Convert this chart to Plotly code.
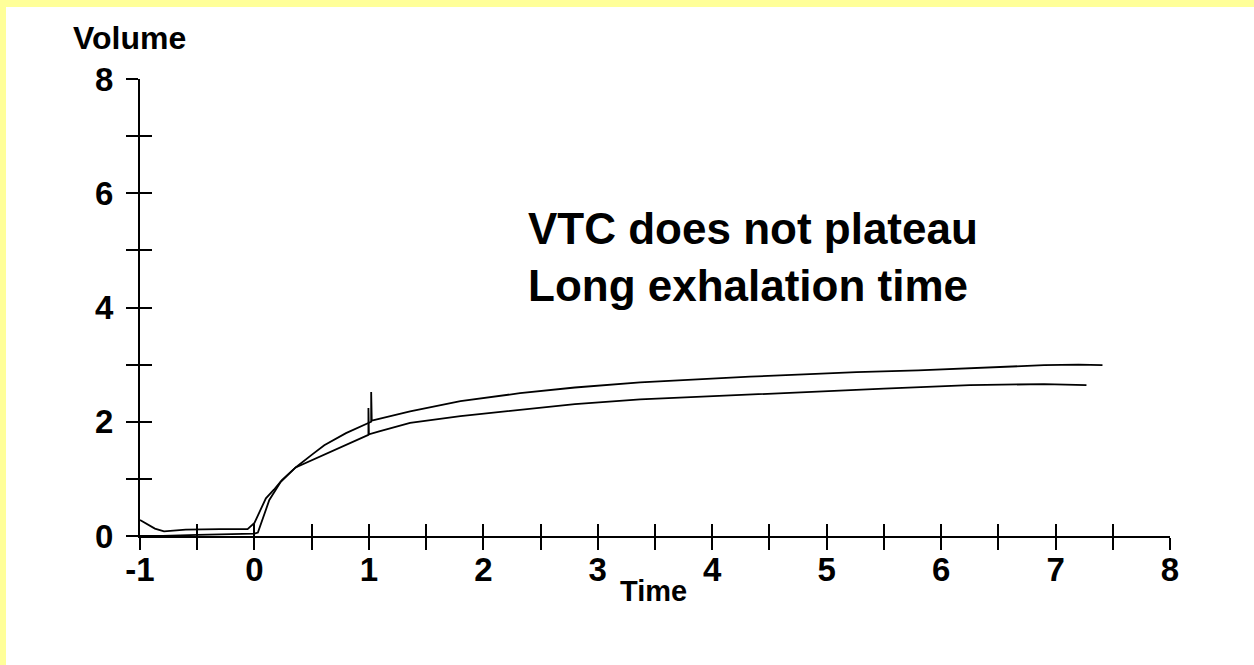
import plotly.graph_objects as go

# ---- data ----
upper_x = [-1.0, -0.8, -0.5, -0.2, 0.0, 0.03, 0.06, 0.13, 0.23, 0.36, 0.5, 0.61, 0.8, 1.0, 1.02, 1.02, 1.025,
           1.36, 1.8, 2.32, 2.8, 3.37, 3.9, 4.33, 4.8, 5.26, 5.8, 6.25, 6.9, 7.2, 7.41]
upper_y = [0.0, 0.0, 0.02, 0.03, 0.04, 0.06, 0.22, 0.63, 0.95, 1.20, 1.42, 1.59, 1.80, 1.97, 2.00, 2.52, 2.02,
           2.18, 2.36, 2.50, 2.60, 2.69, 2.75, 2.79, 2.83, 2.87, 2.90, 2.94, 2.99, 3.00, 2.99]

lower_x = [-1.0, -0.95, -0.87, -0.79, -0.6, -0.3, -0.06, 0.0, 0.04, 0.10, 0.17, 0.24, 0.36, 0.61, 0.8,
           0.996, 0.996, 1.0, 1.09, 1.36, 1.8, 2.32, 2.8, 3.37, 3.9, 4.33, 4.94, 5.5, 6.25, 6.9, 7.27]
lower_y = [0.28, 0.22, 0.13, 0.08, 0.11, 0.12, 0.12, 0.23, 0.40, 0.66, 0.81, 0.98, 1.20, 1.42, 1.60,
           1.77, 2.24, 1.78, 1.83, 1.98, 2.10, 2.21, 2.31, 2.39, 2.44, 2.47, 2.54, 2.58, 2.64, 2.66, 2.64]

x_tickvals = [-1, -0.5, 0, 0.5, 1, 1.5, 2, 2.5, 3, 3.5, 4, 4.5, 5, 5.5, 6, 6.5, 7, 7.5, 8]
x_ticktext = ["-1", "", "0", "", "1", "", "2", "", "3", "", "4", "", "5", "", "6", "", "7", "", "8"]
y_tickvals = [0, 1, 2, 3, 4, 5, 6, 7, 8]
y_ticktext = ["0", "", "2", "", "4", "", "6", "", "8"]

x_title = "Time"
y_title = "Volume"
note = "VTC does not plateau<br>Long exhalation time"

FONT = "Liberation Sans, Arial, sans-serif"
YELLOW = "#FFFF99"

fig = go.Figure()
fig.add_trace(go.Scatter(x=lower_x, y=lower_y, mode="lines",
                         line=dict(color="black", width=1.8), showlegend=False, hoverinfo="skip"))
fig.add_trace(go.Scatter(x=upper_x, y=upper_y, mode="lines", xaxis="x2", yaxis="y2",
                         line=dict(color="black", width=1.8), showlegend=False, hoverinfo="skip"))

tickfont = dict(family=FONT, size=33, color="black", weight="bold")

fig.update_layout(
    width=1254, height=665,
    margin=dict(l=140, r=84, t=79, b=129),
    paper_bgcolor=YELLOW,
    plot_bgcolor="white",
    font=dict(family=FONT, color="black"),
    xaxis=dict(range=[-1, 8], tickmode="array", tickvals=x_tickvals, ticktext=x_ticktext,
               ticks="outside", ticklen=12, tickwidth=1.5, tickcolor="black",
               showline=True, linewidth=2, linecolor="black", showgrid=False, zeroline=False,
               tickfont=tickfont, ticklabelstandoff=-9),
    yaxis=dict(range=[0, 8], tickmode="array", tickvals=y_tickvals, ticktext=y_ticktext,
               ticks="outside", ticklen=12, tickwidth=1.5, tickcolor="black",
               showline=True, linewidth=2, linecolor="black", showgrid=False, zeroline=False,
               tickfont=tickfont, ticklabelstandoff=6),
    xaxis2=dict(range=[-1, 8], overlaying="x", anchor="y", tickmode="array", tickvals=x_tickvals,
                ticks="inside", ticklen=12, tickwidth=1.5, tickcolor="black",
                showticklabels=False, showline=False, showgrid=False, zeroline=False),
    yaxis2=dict(range=[0, 8], overlaying="y", anchor="x", tickmode="array", tickvals=y_tickvals,
                ticks="inside", ticklen=12, tickwidth=1.5, tickcolor="black",
                showticklabels=False, showline=False, showgrid=False, zeroline=False),
    shapes=[dict(type="rect", xref="paper", yref="paper", layer="below",
                 x0=(6 - 140) / 1030, x1=(1254 - 140) / 1030,
                 y0=-129 / 457, y1=(536 - 7) / 457,
                 fillcolor="white", line=dict(width=0))],
    annotations=[
        dict(text=y_title, xref="paper", yref="paper", x=(129 - 140) / 1030, y=(536 - 38) / 457,
             xanchor="center", yanchor="middle", showarrow=False,
             font=dict(family=FONT, size=32, color="black", weight="bold")),
        dict(text=x_title, xref="paper", yref="paper", x=(653 - 140) / 1030, y=(536 - 591) / 457,
             xanchor="center", yanchor="middle", showarrow=False,
             font=dict(family=FONT, size=29, color="black", weight="bold")),
        dict(text=note, xref="x", yref="y", x=2.37, y=5.84, xanchor="left", yanchor="top",
             align="left", showarrow=False,
             font=dict(family=FONT, size=44, color="black", weight="bold")),
    ],
)

fig.write_html("out.html")
